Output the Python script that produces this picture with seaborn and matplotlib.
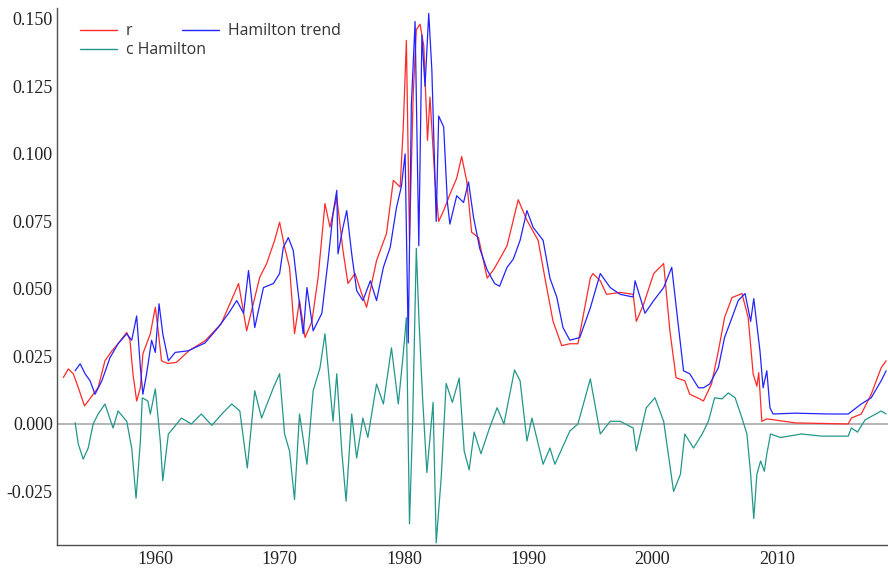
import matplotlib
matplotlib.use("Agg")
import matplotlib.pyplot as plt
import seaborn as sns
from matplotlib.ticker import MultipleLocator, FuncFormatter
from matplotlib.lines import Line2D

# ---------------- data ----------------
r_year = [1952.6, 1953.0, 1953.4, 1953.8, 1954.3, 1954.6, 1955.0, 1955.4, 1955.95, 1956.5,
          1957.0, 1957.7, 1957.96, 1958.2, 1958.5, 1958.8, 1959.0, 1959.6, 1960.0, 1960.2,
          1960.5, 1961.0, 1961.7, 1962.7, 1964.0, 1965.3, 1966.0, 1966.7, 1967.35, 1968.4,
          1968.96, 1969.6, 1970.0, 1970.4, 1970.8, 1971.2, 1971.6, 1972.05, 1972.6, 1973.1,
          1973.65, 1974.05, 1974.6, 1975.1, 1975.5, 1976.07, 1976.6, 1977.0, 1977.8, 1978.6,
          1979.15, 1979.7, 1979.95, 1980.2, 1980.45, 1980.75, 1981.0, 1981.3, 1981.6, 1981.9,
          1982.1, 1982.5, 1982.8, 1983.2, 1983.7, 1984.25, 1984.65, 1985.05, 1985.45, 1986.0,
          1986.7, 1987.2, 1987.7, 1988.3, 1989.2, 1989.9, 1990.8, 1991.35, 1992.0, 1992.7,
          1993.35, 1994.0, 1994.4, 1995.0, 1995.2, 1995.8, 1996.3, 1997.4, 1998.45, 1998.7,
          1999.3, 2000.1, 2000.9, 2001.4, 2001.9, 2002.6, 2003.0, 2003.8, 2004.1, 2004.75,
          2005.3, 2005.8, 2006.4, 2007.2, 2007.7, 2008.1, 2008.4, 2008.55, 2008.8, 2009.2,
          2011.5, 2015.75, 2016.0, 2016.8, 2017.6, 2018.4, 2018.8]
r_val = [0.0172, 0.0204, 0.0186, 0.0135, 0.0067, 0.0085, 0.0110, 0.0135, 0.0234, 0.0270,
         0.0297, 0.0339, 0.0310, 0.0186, 0.0085, 0.0135, 0.0260, 0.0334, 0.0432, 0.0358,
         0.0234, 0.0224, 0.0228, 0.0271, 0.0308, 0.0371, 0.0445, 0.0520, 0.0345, 0.0543,
         0.0594, 0.0680, 0.0747, 0.0655, 0.0580, 0.0334, 0.0457, 0.0320, 0.0380, 0.0543,
         0.0816, 0.0729, 0.0840, 0.0642, 0.0520, 0.0557, 0.0483, 0.0432, 0.0605, 0.0705,
         0.0902, 0.0877, 0.1100, 0.1420, 0.0680, 0.1220, 0.1460, 0.1480, 0.1400, 0.1050,
         0.1210, 0.0900, 0.0750, 0.0790, 0.0850, 0.0910, 0.0990, 0.0900, 0.0710, 0.0690,
         0.0540, 0.0570, 0.0610, 0.0660, 0.0830, 0.0754, 0.0680, 0.0540, 0.0380, 0.0290,
         0.0297, 0.0297, 0.0394, 0.0540, 0.0557, 0.0530, 0.0480, 0.0487, 0.0480, 0.0380,
         0.0445, 0.0557, 0.0594, 0.0345, 0.0171, 0.0160, 0.0110, 0.0093, 0.0085, 0.0148,
         0.0270, 0.0394, 0.0468, 0.0483, 0.0394, 0.0186, 0.0140, 0.0190, 0.0010, 0.0019,
         0.0004, 0.0000, 0.0022, 0.0037, 0.0110, 0.0208, 0.0234]

trend_year = [1953.55, 1953.95, 1954.35, 1954.75, 1955.15, 1955.7, 1956.35, 1957.0, 1957.7, 1958.1,
              1958.5, 1958.8, 1959.0, 1959.3, 1959.7, 1960.0, 1960.3, 1960.6, 1961.05, 1961.6,
              1962.65, 1964.0, 1965.05, 1965.9, 1966.55, 1967.1, 1967.5, 1968.0, 1968.7, 1969.5,
              1970.0, 1970.3, 1970.7, 1971.1, 1971.5, 1971.9, 1972.2, 1972.7, 1973.4, 1973.9,
              1974.3, 1974.6, 1974.7, 1975.1, 1975.4, 1975.8, 1976.2, 1976.7, 1977.3, 1977.8,
              1978.35, 1978.9, 1979.4, 1979.8, 1980.1, 1980.35, 1980.6, 1980.9, 1981.2, 1981.45,
              1981.7, 1982.0, 1982.25, 1982.6, 1982.8, 1983.2, 1983.5, 1983.7, 1984.25, 1984.8,
              1985.2, 1985.6, 1986.1, 1986.7, 1987.3, 1987.7, 1988.3, 1988.8, 1989.35, 1989.9,
              1990.4, 1991.2, 1991.75, 1992.3, 1992.8, 1993.35, 1994.15, 1995.0, 1995.8, 1996.6,
              1997.4, 1998.45, 1998.6, 1999.4, 2000.1, 2000.9, 2001.55, 2002.1, 2002.5, 2003.0,
              2003.7, 2004.1, 2004.6, 2005.3, 2005.8, 2006.4, 2006.9, 2007.45, 2007.9, 2008.15,
              2008.65, 2008.9, 2009.2, 2009.45, 2009.7, 2011.5, 2014.15, 2015.75, 2016.8, 2017.6,
              2018.4, 2018.8]
trend_val = [0.0197, 0.0223, 0.0186, 0.0160, 0.0110, 0.0160, 0.0245, 0.0297, 0.0334, 0.0310,
             0.0400, 0.0208, 0.0110, 0.0186, 0.0310, 0.0265, 0.0445, 0.0334, 0.0234, 0.0265,
             0.0271, 0.0300, 0.0357, 0.0410, 0.0457, 0.0410, 0.0568, 0.0357, 0.0505, 0.0520,
             0.0557, 0.0654, 0.0690, 0.0642, 0.0483, 0.0334, 0.0505, 0.0345, 0.0410, 0.0605,
             0.0780, 0.0865, 0.0630, 0.0728, 0.0790, 0.0630, 0.0494, 0.0457, 0.0530, 0.0457,
             0.0580, 0.0654, 0.0800, 0.0880, 0.1000, 0.0300, 0.1180, 0.1490, 0.0660, 0.1440,
             0.1250, 0.1520, 0.1310, 0.0750, 0.1140, 0.1100, 0.0820, 0.0740, 0.0845, 0.0820,
             0.0896, 0.0766, 0.0650, 0.0570, 0.0520, 0.0510, 0.0580, 0.0610, 0.0680, 0.0790,
             0.0728, 0.0680, 0.0540, 0.0470, 0.0357, 0.0310, 0.0320, 0.0430, 0.0557, 0.0505,
             0.0480, 0.0470, 0.0530, 0.0410, 0.0457, 0.0505, 0.0580, 0.0357, 0.0197, 0.0186,
             0.0134, 0.0134, 0.0148, 0.0208, 0.0320, 0.0394, 0.0457, 0.0483, 0.0380, 0.0464,
             0.0270, 0.0134, 0.0197, 0.0060, 0.0037, 0.0040, 0.0037, 0.0037, 0.0074, 0.0097,
             0.0160, 0.0197]

cycle_year = [1953.55, 1953.8, 1954.2, 1954.6, 1955.0, 1955.4, 1955.95, 1956.6, 1957.0, 1957.7,
              1958.1, 1958.45, 1958.8, 1958.95, 1959.4, 1959.6, 1960.0, 1960.4, 1960.6, 1961.05,
              1961.45, 1962.1, 1962.9, 1963.7, 1964.55, 1965.35, 1966.15, 1966.8, 1967.4, 1968.0,
              1968.55, 1969.5, 1970.0, 1970.4, 1970.8, 1971.2, 1971.6, 1972.2, 1972.7, 1973.25,
              1973.65, 1974.05, 1974.3, 1974.6, 1975.0, 1975.35, 1975.8, 1976.2, 1976.7, 1977.1,
              1977.8, 1978.35, 1979.0, 1979.55, 1979.95, 1980.2, 1980.45, 1980.7, 1981.0, 1981.2,
              1981.5, 1981.85, 1982.1, 1982.35, 1982.6, 1983.0, 1983.4, 1983.9, 1984.45, 1984.85,
              1985.25, 1985.65, 1986.2, 1986.85, 1987.5, 1988.05, 1988.9, 1989.35, 1989.9, 1990.3,
              1991.2, 1991.75, 1992.15, 1993.35, 1994.0, 1995.0, 1995.8, 1996.6, 1997.4, 1998.45,
              1998.7, 1999.5, 2000.2, 2000.9, 2001.7, 2002.25, 2002.6, 2003.3, 2004.0, 2004.5,
              2005.0, 2005.6, 2006.1, 2006.65, 2007.2, 2007.6, 2007.9, 2008.15, 2008.4, 2008.7,
              2009.0, 2009.2, 2009.5, 2010.3, 2012.0, 2013.6, 2015.75, 2016.0, 2016.5, 2017.1,
              2018.4, 2018.8]
cycle_val = [0.0005, -0.0074, -0.0130, -0.0089, 0.0000, 0.0037, 0.0074, -0.0015, 0.0048, 0.0010,
             -0.0089, -0.0275, -0.0063, 0.0097, 0.0085, 0.0037, 0.0130, -0.0063, -0.0210, -0.0037,
             -0.0015, 0.0022, 0.0000, 0.0037, -0.0005, 0.0037, 0.0074, 0.0048, -0.0163, 0.0123,
             0.0022, 0.0134, 0.0186, -0.0037, -0.0100, -0.0280, 0.0037, -0.0149, 0.0123, 0.0208,
             0.0334, 0.0134, 0.0010, 0.0186, -0.0100, -0.0286, 0.0037, -0.0126, 0.0022, -0.0050,
             0.0148, 0.0074, 0.0282, 0.0074, 0.0260, 0.0394, -0.0370, 0.0000, 0.0650, 0.0400,
             0.0100, -0.0180, -0.0050, 0.0080, -0.0440, -0.0200, 0.0150, 0.0080, 0.0170, -0.0100,
             -0.0170, -0.0030, -0.0110, -0.0020, 0.0060, 0.0000, 0.0200, 0.0160, -0.0063, 0.0022,
             -0.0149, -0.0089, -0.0149, -0.0026, 0.0000, 0.0167, -0.0037, 0.0010, 0.0010, -0.0015,
             -0.0100, 0.0060, 0.0097, 0.0010, -0.0250, -0.0186, -0.0037, -0.0089, -0.0037, 0.0010,
             0.0097, 0.0093, 0.0115, 0.0097, 0.0022, -0.0037, -0.0186, -0.0350, -0.0186, -0.0137,
             -0.0175, -0.0111, -0.0037, -0.0050, -0.0037, -0.0045, -0.0045, -0.0015, -0.0030, 0.0015,
             0.0048, 0.0037]

series_names = ["r", "Hamilton trend", "c Hamilton"]
y_ticks = [-0.025, 0.000, 0.025, 0.050, 0.075, 0.100, 0.125, 0.150]
x_ticks = [1960, 1970, 1980, 1990, 2000, 2010]

# ---------------- style ----------------
sns.set_style("white")
plt.rcParams["font.family"] = ["Liberation Serif", "DejaVu Serif"]

RED = "#ff2a2a"
BLUE = "#2323ff"
TEAL = "#23978a"

fig = plt.figure(figsize=(8.88, 5.68), dpi=100)
ax = fig.add_axes([57 / 888, 23 / 568, (888 - 57) / 888, (545 - 8) / 568])

ax.axhline(0.0, color="#a8a8a8", lw=1.2, zorder=1)

sns.lineplot(x=r_year, y=r_val, ax=ax, color=RED, lw=0.9, estimator=None, sort=False, zorder=3)
sns.lineplot(x=trend_year, y=trend_val, ax=ax, color=BLUE, lw=0.9, estimator=None, sort=False, zorder=4)
sns.lineplot(x=cycle_year, y=cycle_val, ax=ax, color=TEAL, lw=0.9, estimator=None, sort=False, zorder=2)

ax.set_xlim(1952.09, 2018.95)
ax.set_ylim(-0.0448, 0.154)

ax.set_xticks(x_ticks)
ax.set_yticks(y_ticks)
ax.xaxis.set_minor_locator(MultipleLocator(2))
ax.yaxis.set_minor_locator(MultipleLocator(0.005))
ax.yaxis.set_major_formatter(FuncFormatter(lambda v, p: f"{v:.3f}"))
ax.xaxis.set_major_formatter(FuncFormatter(lambda v, p: f"{int(round(v))}"))

for side in ["top", "right"]:
    ax.spines[side].set_visible(False)
for side in ["left", "bottom"]:
    ax.spines[side].set_color("#505050")
    ax.spines[side].set_linewidth(1.0)

ax.tick_params(axis="both", which="major", direction="in", length=5, width=1.0,
               color="#505050", labelsize=13, labelcolor="#222222")
ax.tick_params(axis="both", which="minor", direction="in", length=2.5, width=0.8, color="#505050")
ax.tick_params(axis="y", which="major", pad=3)
ax.tick_params(axis="x", which="major", pad=4)
ax.set_xlabel("")
ax.set_ylabel("")

# ---------------- legend ----------------
leg_font = {"family": "Open Sans", "size": 11.4}
h_r = Line2D([], [], color=RED, lw=1.0)
h_c = Line2D([], [], color=TEAL, lw=1.0)
h_t = Line2D([], [], color=BLUE, lw=1.0)

leg1 = ax.legend([h_r, h_c], [series_names[0], series_names[2]], loc="upper left",
                 bbox_to_anchor=(77 / 888, 1 - 20 / 568), bbox_transform=fig.transFigure,
                 frameon=False, prop=leg_font, handlelength=2.3, handletextpad=0.6,
                 labelspacing=0.2, borderpad=0.2, borderaxespad=0)
for t in leg1.get_texts():
    t.set_color("#333333")
ax.add_artist(leg1)
leg2 = ax.legend([h_t], [series_names[1]], loc="upper left",
                 bbox_to_anchor=(179 / 888, 1 - 20 / 568), bbox_transform=fig.transFigure,
                 frameon=False, prop=leg_font, handlelength=2.3, handletextpad=0.6,
                 borderpad=0.2, borderaxespad=0)
for t in leg2.get_texts():
    t.set_color("#333333")

fig.savefig("out.png", dpi=100)
